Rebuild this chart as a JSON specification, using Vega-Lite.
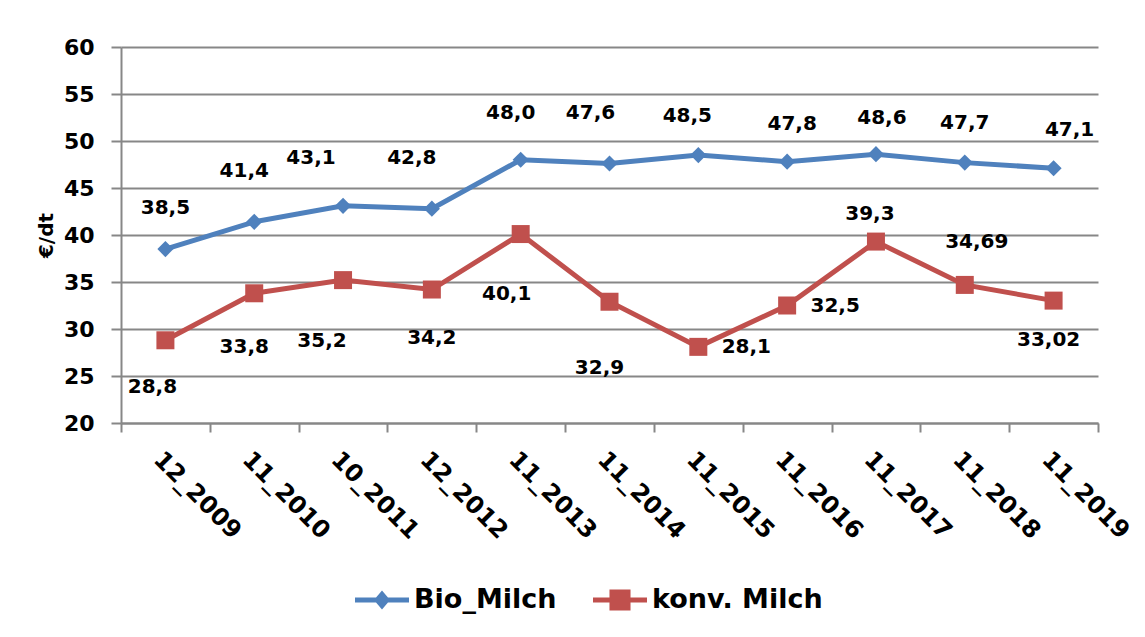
{
  "$schema": "https://vega.github.io/schema/vega-lite/v6.json",
  "autosize": "none",
  "width": 977,
  "height": 376,
  "padding": {"left": 121, "top": 47, "right": 47, "bottom": 214},
  "background": "white",
  "config": {
    "locale": {"number": {"decimal": ",", "thousands": ".", "grouping": [3], "currency": ["", " €"]}},
    "view": {"stroke": null},
    "text": {"font": "DejaVu Sans", "fontSize": 20, "fontWeight": "bold", "fill": "#000000"},
    "axis": {"labelFont": "DejaVu Sans", "labelFontWeight": "bold", "labelColor": "#000000", "titleFont": "DejaVu Sans", "titleFontWeight": "bold", "titleColor": "#000000", "domainColor": "#878787", "domainWidth": 2, "tickColor": "#878787", "tickWidth": 2, "gridColor": "#878787", "gridWidth": 2}
  },
  "resolve": {"scale": {"color": "independent", "shape": "independent"}},
  "data": {
    "values": [
      {"m": "12_2009", "s": "Bio_Milch", "v": 38.5},
      {"m": "11_2010", "s": "Bio_Milch", "v": 41.4},
      {"m": "10_2011", "s": "Bio_Milch", "v": 43.1},
      {"m": "12_2012", "s": "Bio_Milch", "v": 42.8},
      {"m": "11_2013", "s": "Bio_Milch", "v": 48.0},
      {"m": "11_2014", "s": "Bio_Milch", "v": 47.6},
      {"m": "11_2015", "s": "Bio_Milch", "v": 48.5},
      {"m": "11_2016", "s": "Bio_Milch", "v": 47.8},
      {"m": "11_2017", "s": "Bio_Milch", "v": 48.6},
      {"m": "11_2018", "s": "Bio_Milch", "v": 47.7},
      {"m": "11_2019", "s": "Bio_Milch", "v": 47.1},
      {"m": "12_2009", "s": "konv. Milch", "v": 28.8},
      {"m": "11_2010", "s": "konv. Milch", "v": 33.8},
      {"m": "10_2011", "s": "konv. Milch", "v": 35.2},
      {"m": "12_2012", "s": "konv. Milch", "v": 34.2},
      {"m": "11_2013", "s": "konv. Milch", "v": 40.1},
      {"m": "11_2014", "s": "konv. Milch", "v": 32.9},
      {"m": "11_2015", "s": "konv. Milch", "v": 28.1},
      {"m": "11_2016", "s": "konv. Milch", "v": 32.5},
      {"m": "11_2017", "s": "konv. Milch", "v": 39.3},
      {"m": "11_2018", "s": "konv. Milch", "v": 34.69},
      {"m": "11_2019", "s": "konv. Milch", "v": 33.02}
    ]
  },
  "encoding": {
    "x": {
      "field": "m", "type": "nominal", "sort": null,
      "scale": {"type": "band", "paddingInner": 0, "paddingOuter": 0},
      "axis": {"title": null, "tickBand": "extent", "labelAngle": 45, "labelAlign": "left", "labelBaseline": "top", "labelFontSize": 24, "labelPadding": 15, "tickSize": 9, "labelOverlap": false, "labelBound": false, "labelFlush": false, "grid": false}
    },
    "y": {
      "field": "v", "type": "quantitative",
      "scale": {"domain": [20, 60], "nice": false, "zero": false},
      "axis": {"title": "€/dt", "titleFontSize": 20, "titlePadding": 7, "values": [20, 25, 30, 35, 40, 45, 50, 55, 60], "labelFontSize": 22, "tickSize": 10, "labelPadding": 17, "grid": true, "format": "d"}
    }
  },
  "layer": [
    {
      "mark": {"type": "line", "strokeWidth": 5},
      "encoding": {
        "color": {"field": "s", "type": "nominal", "scale": {"domain": ["Bio_Milch", "konv. Milch"], "range": ["#4F81BD", "#C0504D"]}, "legend": null}
      }
    },
    {
      "mark": {"type": "point", "filled": true, "opacity": 1, "strokeWidth": 0},
      "encoding": {
        "color": {"field": "s", "type": "nominal", "scale": {"domain": ["Bio_Milch", "konv. Milch"], "range": ["#4F81BD", "#C0504D"]}, "legend": null},
        "shape": {"condition": {"test": "datum.s == 'Bio_Milch'", "value": "diamond"}, "value": "square"},
        "size": {"condition": {"test": "datum.s == 'Bio_Milch'", "value": 260}, "value": 324}
      }
    },
    {
      "mark": {"type": "point", "filled": true, "clip": true},
      "encoding": {
        "y": {"datum": 0, "type": "quantitative"},
        "color": {"field": "s", "type": "nominal",
          "scale": {"domain": ["Bio_Milch", "konv. Milch"], "range": ["#4F81BD", "#C0504D"]},
          "legend": {"title": null, "orient": "none", "direction": "horizontal", "columns": 2, "legendX": 234, "legendY": 526, "padding": 0, "columnPadding": 36, "labelOffset": 5, "labelLimit": 400, "labelFont": "DejaVu Sans", "labelFontWeight": "bold", "labelFontSize": 27, "labelColor": "#000000", "symbolSize": 2916, "symbolStrokeWidth": 0, "symbolOpacity": 1}},
        "shape": {"field": "s", "type": "nominal",
          "scale": {"domain": ["Bio_Milch", "konv. Milch"], "range": ["M-1,-0.093H1V0.093H-1Z M0,-0.35L0.3,0L0,0.35L-0.3,0Z", "M-1,-0.093H1V0.093H-1Z M-0.39,-0.39H0.39V0.39H-0.39Z"]},
          "legend": {"title": null, "orient": "none", "direction": "horizontal", "columns": 2, "legendX": 234, "legendY": 526, "padding": 0, "columnPadding": 36, "labelOffset": 5, "labelLimit": 400, "labelFont": "DejaVu Sans", "labelFontWeight": "bold", "labelFontSize": 27, "labelColor": "#000000", "symbolSize": 2916, "symbolStrokeWidth": 0, "symbolOpacity": 1}}
      }
    },
    {"transform": [{"filter": "datum.s == 'Bio_Milch' && datum.m == '12_2009'"}], "mark": {"type": "text", "dx": 0, "dy": -41}, "encoding": {"text": {"field": "v", "type": "quantitative", "format": ".1f"}}},
    {"transform": [{"filter": "datum.s == 'Bio_Milch' && datum.m == '11_2010'"}], "mark": {"type": "text", "dx": -10, "dy": -51}, "encoding": {"text": {"field": "v", "type": "quantitative", "format": ".1f"}}},
    {"transform": [{"filter": "datum.s == 'Bio_Milch' && datum.m == '10_2011'"}], "mark": {"type": "text", "dx": -32, "dy": -48}, "encoding": {"text": {"field": "v", "type": "quantitative", "format": ".1f"}}},
    {"transform": [{"filter": "datum.s == 'Bio_Milch' && datum.m == '12_2012'"}], "mark": {"type": "text", "dx": -20, "dy": -51}, "encoding": {"text": {"field": "v", "type": "quantitative", "format": ".1f"}}},
    {"transform": [{"filter": "datum.s == 'Bio_Milch' && datum.m == '11_2013'"}], "mark": {"type": "text", "dx": -10, "dy": -47}, "encoding": {"text": {"field": "v", "type": "quantitative", "format": ".1f"}}},
    {"transform": [{"filter": "datum.s == 'Bio_Milch' && datum.m == '11_2014'"}], "mark": {"type": "text", "dx": -19, "dy": -51}, "encoding": {"text": {"field": "v", "type": "quantitative", "format": ".1f"}}},
    {"transform": [{"filter": "datum.s == 'Bio_Milch' && datum.m == '11_2015'"}], "mark": {"type": "text", "dx": -11, "dy": -39}, "encoding": {"text": {"field": "v", "type": "quantitative", "format": ".1f"}}},
    {"transform": [{"filter": "datum.s == 'Bio_Milch' && datum.m == '11_2016'"}], "mark": {"type": "text", "dx": 5, "dy": -38}, "encoding": {"text": {"field": "v", "type": "quantitative", "format": ".1f"}}},
    {"transform": [{"filter": "datum.s == 'Bio_Milch' && datum.m == '11_2017'"}], "mark": {"type": "text", "dx": 6, "dy": -36}, "encoding": {"text": {"field": "v", "type": "quantitative", "format": ".1f"}}},
    {"transform": [{"filter": "datum.s == 'Bio_Milch' && datum.m == '11_2018'"}], "mark": {"type": "text", "dx": 0, "dy": -40}, "encoding": {"text": {"field": "v", "type": "quantitative", "format": ".1f"}}},
    {"transform": [{"filter": "datum.s == 'Bio_Milch' && datum.m == '11_2019'"}], "mark": {"type": "text", "dx": 16, "dy": -38}, "encoding": {"text": {"field": "v", "type": "quantitative", "format": ".1f"}}},
    {"transform": [{"filter": "datum.s == 'konv. Milch' && datum.m == '12_2009'"}], "mark": {"type": "text", "dx": -13, "dy": 47}, "encoding": {"text": {"field": "v", "type": "quantitative", "format": ".1f"}}},
    {"transform": [{"filter": "datum.s == 'konv. Milch' && datum.m == '11_2010'"}], "mark": {"type": "text", "dx": -10, "dy": 54}, "encoding": {"text": {"field": "v", "type": "quantitative", "format": ".1f"}}},
    {"transform": [{"filter": "datum.s == 'konv. Milch' && datum.m == '10_2011'"}], "mark": {"type": "text", "dx": -21, "dy": 61}, "encoding": {"text": {"field": "v", "type": "quantitative", "format": ".1f"}}},
    {"transform": [{"filter": "datum.s == 'konv. Milch' && datum.m == '12_2012'"}], "mark": {"type": "text", "dx": 0, "dy": 48}, "encoding": {"text": {"field": "v", "type": "quantitative", "format": ".1f"}}},
    {"transform": [{"filter": "datum.s == 'konv. Milch' && datum.m == '11_2013'"}], "mark": {"type": "text", "dx": -14, "dy": 60}, "encoding": {"text": {"field": "v", "type": "quantitative", "format": ".1f"}}},
    {"transform": [{"filter": "datum.s == 'konv. Milch' && datum.m == '11_2014'"}], "mark": {"type": "text", "dx": -10, "dy": 66}, "encoding": {"text": {"field": "v", "type": "quantitative", "format": ".1f"}}},
    {"transform": [{"filter": "datum.s == 'konv. Milch' && datum.m == '11_2015'"}], "mark": {"type": "text", "dx": 48, "dy": 0}, "encoding": {"text": {"field": "v", "type": "quantitative", "format": ".1f"}}},
    {"transform": [{"filter": "datum.s == 'konv. Milch' && datum.m == '11_2016'"}], "mark": {"type": "text", "dx": 48, "dy": 0}, "encoding": {"text": {"field": "v", "type": "quantitative", "format": ".1f"}}},
    {"transform": [{"filter": "datum.s == 'konv. Milch' && datum.m == '11_2017'"}], "mark": {"type": "text", "dx": -6, "dy": -28}, "encoding": {"text": {"field": "v", "type": "quantitative", "format": ".1f"}}},
    {"transform": [{"filter": "datum.s == 'konv. Milch' && datum.m == '11_2018'"}], "mark": {"type": "text", "dx": 12, "dy": -43}, "encoding": {"text": {"field": "v", "type": "quantitative", "format": ".2f"}}},
    {"transform": [{"filter": "datum.s == 'konv. Milch' && datum.m == '11_2019'"}], "mark": {"type": "text", "dx": -5, "dy": 39}, "encoding": {"text": {"field": "v", "type": "quantitative", "format": ".2f"}}}
  ]
}
